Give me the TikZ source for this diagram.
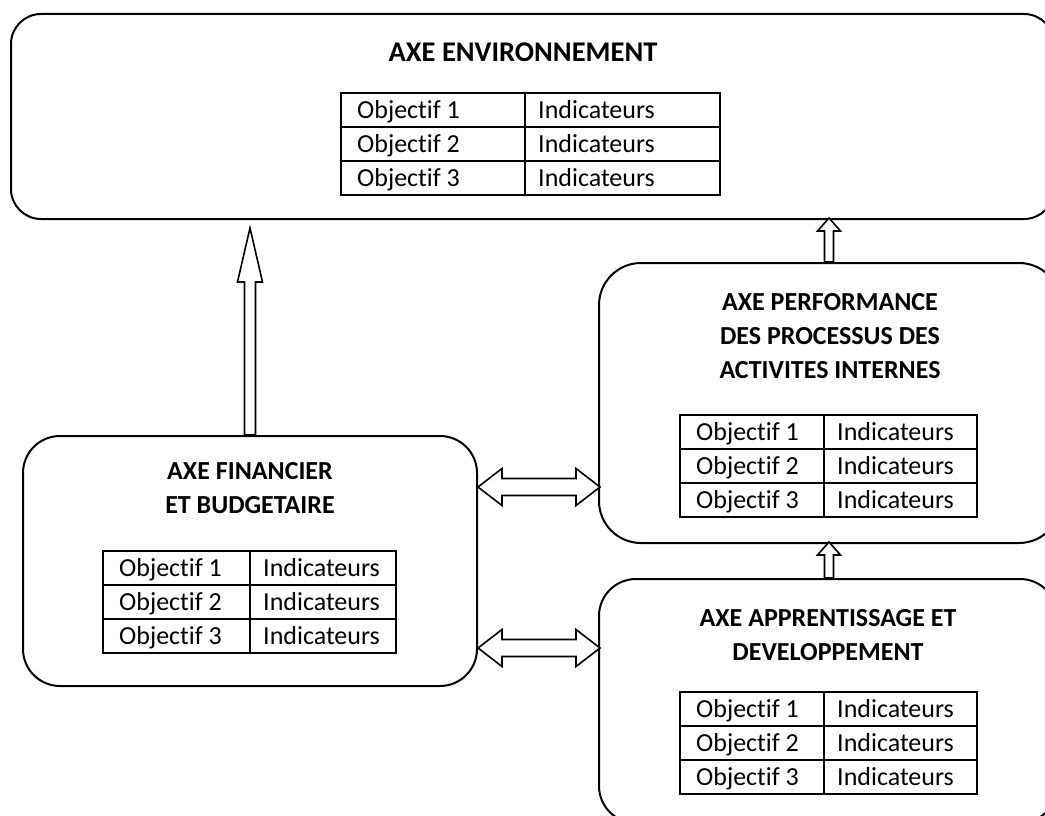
\documentclass[tikz,border=0pt]{standalone}
\usepackage{fontspec}
\setmainfont{Carlito}[Ligatures=NoCommon]
\usetikzlibrary{calc}

% Objectives table: #1 name, (#2,#3) top-left corner, #4/#5 column widths
\newcommand{\objtable}[5]{%
  \draw[grid] (#2,#3) rectangle ++(#4+#5,102);
  \draw[grid] (#2+#4,#3) -- ++(0,102);
  \draw[grid] (#2,#3+34) -- ++(#4+#5,0);
  \draw[grid] (#2,#3+68) -- ++(#4+#5,0);
  \foreach \r in {1,2,3}{
    \node[cell] (#1-o\r) at (#2+16,#3+34*\r-8.5) {Objectif \r};
    \node[cell] (#1-i\r) at (#2+#4+13,#3+34*\r-8.5) {Indicateurs};
  }%
}

\begin{document}
\begin{tikzpicture}[x=1pt,y=-1pt,
  axisbox/.style={draw, line width=2pt, inner sep=0pt, anchor=north west},
  grid/.style={line width=2pt},
  cell/.style={anchor=base west, inner sep=0pt, font=\fontsize{26}{32}\selectfont},
  title/.style={align=center, inner sep=0pt, font=\bfseries\fontsize{26}{34}\selectfont},
  arr/.style={draw, line width=1.6pt, fill=white, line join=miter},
]
\useasboundingbox (0,0) rectangle (1045,816);
\clip (0,0) rectangle (1045,816);

% the four axes
\node[axisbox, rounded corners=30pt, minimum width=1043pt, minimum height=205pt] (env) at (10,13) {};
\node[axisbox, rounded corners=37pt, minimum width=454pt, minimum height=250pt] (fin) at (22,435) {};
\node[axisbox, rounded corners=42pt, minimum width=462pt, minimum height=280pt] (perf) at (598,262) {};
\node[axisbox, rounded corners=37pt, minimum width=458pt, minimum height=244pt] (app) at (598,578) {};

% titles
\node[title, font=\bfseries\fontsize{28.5}{34}\selectfont] (env-t) at (523,52) {AXE ENVIRONNEMENT};
\node[title] (fin-t) at (250,488) {AXE FINANCIER\\ET BUDGETAIRE};
\node[title] (perf-t) at (830,336) {AXE PERFORMANCE\\DES PROCESSUS DES\\ACTIVITES INTERNES};
\node[title] (app-t) at (828,635) {AXE APPRENTISSAGE ET\\DEVELOPPEMENT};

% objectives and indicators
\objtable{env}{341}{93}{184}{195}
\objtable{fin}{103}{551}{147}{146}
\objtable{perf}{680}{415}{144}{153}
\objtable{app}{680}{692}{144}{153}

% block arrows
\coordinate (ax) at (829,0);
\coordinate (d1) at (0,487);
\coordinate (d2) at (0,648);

\draw[arr, shift={(fin.north)}]
  (-5.5,0) -- (-5.5,-153) -- (-12.5,-153) -- (0,-207) -- (12.5,-153) -- (5.5,-153) -- (5.5,0) -- cycle;
\draw[arr, shift={(perf.north -| ax)}]
  (-4.5,0) -- (-4.5,-31) -- (-11.5,-31) -- (0,-44) -- (11.5,-31) -- (4.5,-31) -- (4.5,0) -- cycle;
\draw[arr, shift={(app.north -| ax)}]
  (-4.5,0) -- (-4.5,-23) -- (-11.5,-23) -- (0,-36) -- (11.5,-23) -- (4.5,-23) -- (4.5,0) -- cycle;

\draw[arr, shift={(fin.east |- d1)}]
  (0,0) -- (24,-18.5) -- (24,-8.5) -- (98,-8.5) -- (98,-18.5) -- (122,0)
  -- (98,18.5) -- (98,8.5) -- (24,8.5) -- (24,18.5) -- cycle;
\draw[arr, shift={(fin.east |- d2)}]
  (0,0) -- (24,-18.5) -- (24,-8.5) -- (98,-8.5) -- (98,-18.5) -- (122,0)
  -- (98,18.5) -- (98,8.5) -- (24,8.5) -- (24,18.5) -- cycle;
\end{tikzpicture}
\end{document}
